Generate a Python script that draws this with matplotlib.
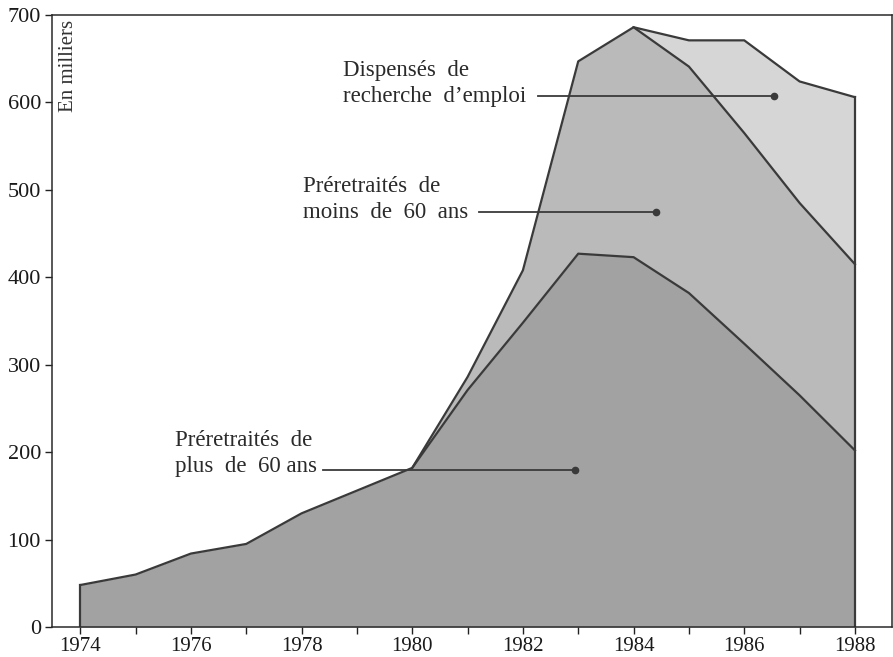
import matplotlib
matplotlib.use("Agg")
import matplotlib.pyplot as plt
import numpy as np

years = [1974, 1975, 1976, 1977, 1978, 1979, 1980, 1981, 1982, 1983, 1984, 1985, 1986, 1987, 1988]
# values in thousands
plus_60 = [48, 60, 84, 95, 130, 156, 182, 271, 348, 427, 423, 382, 324, 265, 202]
moins_60 = [0, 0, 0, 0, 0, 0, 0, 15, 60, 220, 263, 259, 241, 220, 213]
dispenses = [0, 0, 0, 0, 0, 0, 0, 0, 0, 0, 0, 30, 106, 139, 191]

labels = ["Préretraités  de\nplus  de  60 ans",
          "Préretraités  de\nmoins  de  60  ans",
          "Dispensés  de\nrecherche  d’emploi"]
ytick_vals = [0, 100, 200, 300, 400, 500, 600, 700]
xtick_labels = [1974, 1976, 1978, 1980, 1982, 1984, 1986, 1988]

plt.rcParams['font.family'] = ['Liberation Serif', 'DejaVu Serif']

x = np.array(years)
c1 = np.array(plus_60)
c2 = c1 + np.array(moins_60)
c3 = c2 + np.array(dispenses)

fig = plt.figure(figsize=(8.93, 6.57), dpi=100)
ax = fig.add_axes([52/893, 30/657, 840/893, 612/657])

edge = '#3a3a3a'
ax.fill_between(x, c2, c3, color='#d6d6d6', lw=0)
ax.fill_between(x, c1, c2, color='#bababa', lw=0)
ax.fill_between(x, 0, c1, color='#a2a2a2', lw=0)

mask = np.array(dispenses) > 0
start = np.argmax(mask) - 1
ax.plot(x[start:], c3[start:], color=edge, lw=1.6)
mstart = np.argmax(np.array(moins_60) > 0) - 1
ax.plot(x[mstart:], c2[mstart:], color=edge, lw=1.6)
ax.plot(x, c1, color=edge, lw=1.6)
ax.plot([x[0], x[0]], [0, c1[0]], color=edge, lw=1.6)
ax.plot([x[-1], x[-1]], [0, c3[-1]], color=edge, lw=1.6)

ax.set_xlim(1973.49, 1988.67)
ax.set_ylim(0, 700)

ax.set_xticks(years)
ax.set_xticklabels([str(y) if y in xtick_labels else '' for y in years])
ax.set_yticks(ytick_vals)
ax.tick_params(axis='both', direction='out', length=5, width=1, color='#222222',
               labelcolor='#1a1a1a')
ax.tick_params(axis='x', pad=2, labelsize=15)
ax.tick_params(axis='y', pad=3, labelsize=16)
for s in ax.spines.values():
    s.set_color('#2a2a2a')
    s.set_linewidth(1.1)

ax.text(1973.79, 694, "En milliers", rotation=90, ha='center', va='top',
        fontsize=15, color='#333333')

# annotations
ann = [
    (labels[0], 1975.72, 198, 1978.38, 1982.95, 180),
    (labels[1], 1978.03, 489, 1981.2, 1984.4, 475),
    (labels[2], 1978.75, 622, 1982.28, 1986.53, 607),
]
for txt, tx, ty, lx0, lx1, ly in ann:
    ax.text(tx, ty, txt, ha='left', va='center', fontsize=16.5, color='#2a2a2a',
            linespacing=1.3)
    ax.plot([lx0, lx1], [ly, ly], color=edge, lw=1.3)
    ax.plot([lx1], [ly], 'o', color=edge, ms=4.5)

fig.savefig("out.png", dpi=100, facecolor='white')
